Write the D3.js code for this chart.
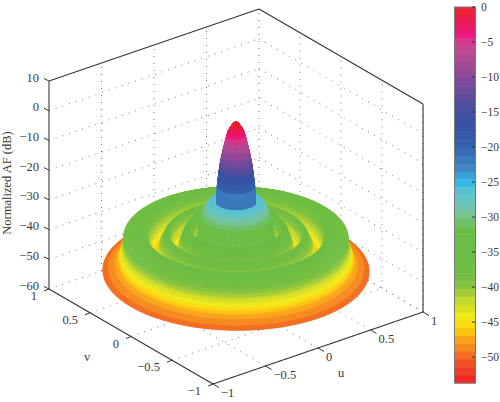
<!DOCTYPE html>
<html><head><meta charset="utf-8">
<script src="https://cdn.jsdelivr.net/npm/d3@7"></script>
<style>html,body{margin:0;padding:0;background:#fff}svg{display:block}text{font-family:"Liberation Serif","Times New Roman",serif;fill:#3a3a3a}</style>
</head><body><svg id="c" width="500" height="402"></svg>
<script>
// radial pattern cut: radius in uv-space and normalized AF in dB
const radii =  [0,.02,.04,.06,.083,.10,.12,.132,.14,.144,.15,.165,.19,.22,.255,.27,.285,.30,.31,.33,.345,.36,.385,.42,.435,.45,.47,.49,.51,.535,.575,.585,.60,.62,.64,.66,.68,.72,.78,.84,.85,.87,.89,.95,1];
const levels = [0,-.4,-1.7,-3.2,-7,-10,-14.5,-18.5,-21.5,-28,-29,-26.5,-26.5,-28,-31,-34,-38,-41,-44,-39.5,-36,-35,-36.5,-40.3,-43,-47,-44,-40,-37,-38,-41.5,-44,-48.5,-45.5,-42.5,-39.5,-37.2,-36.5,-37.5,-38.6,-42,-45,-47.5,-49,-50];
const uTicks = [-1,-.5,0,.5,1];
const vTicks = [-1,-.5,0,.5,1];
const zTicks = [-60,-50,-40,-30,-20,-10,0,10];
const barTicks = [0,-5,-10,-15,-20,-25,-30,-35,-40,-45,-50];
const cmapValues = [0,-2,-4,-5.5,-8,-11,-14,-17,-20,-23,-25,-26,-28,-29.5,-31,-32,-36,-38.5,-40,-42,-44.5,-46,-47.5,-49,-50.5,-52,-53.7];
const cmapColors = ["#ee2a2a","#e8184f","#ec1a80","#c9468f","#a94a96","#7a4a9a","#4e4f9e","#3752a3","#3462ae","#3f88c6","#2fb8e8","#55c1d6","#6cc5c0","#78c498","#6fbf5f","#6cbd45","#6cbd45","#72bf44","#8bc53f","#c4d92e","#f6eb14","#fecf0a","#f9a61a","#f58220","#f15a24","#ef3e26","#ed1c24"];
const uLabel = "u", vLabel = "v", zLabel = "Normalized AF (dB)";
const bandCount = 48, zMin = -53.7;

const svg = d3.select("#c");
const ox = 213, oy = 384;
const uX = d3.scaleLinear([-1,1],[0,210]), uY = d3.scaleLinear([-1,1],[0,-72]);
const vX = d3.scaleLinear([-1,1],[0,-164]), vY = d3.scaleLinear([-1,1],[0,-95]);
const zY = d3.scaleLinear([-60,10],[0,-208]);
const P = (u,v,z) => [ox+uX(u)+vX(v), oy+uY(u)+vY(v)+zY(z)];
const line = d3.line();
const fmt = t => String(t).replace("-","\u2212");

// colormap
const cm = d3.scaleLinear(cmapValues,cmapColors);
const band = z => { const w = -zMin/bandCount; const i = Math.min(bandCount-1,Math.max(0,Math.floor(-z/w))); return cm(-(i+.5)*w); };

// grid
const gridLines = [];
for (const z of zTicks.slice(0,-1)) { gridLines.push([P(-1,1,z),P(1,1,z)]); gridLines.push([P(1,1,z),P(1,-1,z)]); }
for (const u of uTicks) { if(u>-1) gridLines.push([P(u,1,-60),P(u,1,10)]); if(u>-1) gridLines.push([P(u,-1,-60),P(u,1,-60)]); }
for (const v of vTicks) { if(v<1) gridLines.push([P(1,v,-60),P(1,v,10)]); if(v<1) gridLines.push([P(-1,v,-60),P(1,v,-60)]); }
svg.append("g").selectAll("path").data(gridLines).join("path").attr("d",line)
  .attr("fill","none").attr("stroke","#777").attr("stroke-width",1).attr("stroke-dasharray","1 6");

// box
const box = [[P(-1,1,10),P(1,1,10)],[P(1,1,10),P(1,-1,10)],[P(1,-1,10),P(1,-1,-60)],[P(1,-1,-60),P(-1,-1,-60)],[P(-1,-1,-60),P(-1,1,-60)]];
svg.append("g").selectAll("path").data(box).join("path").attr("d",line).attr("fill","none").attr("stroke","#333").attr("stroke-width",1.1);
svg.append("path").attr("d",line([P(-1,1,10),P(-1,1,-60)])).attr("stroke","#777").attr("stroke-width",1.6);

// surface
const prof = d3.scaleLinear(radii,levels);
const rings = [];
for (let i=0;i<radii.length-1;i++){ const n=Math.max(1,Math.ceil((radii[i+1]-radii[i])/.005)); for(let k=0;k<n;k++) rings.push(radii[i]+(radii[i+1]-radii[i])*k/n); }
rings.push(1);
const dA = Math.PI/90;
const cells = [];
for (let i=0;i<rings.length-1;i++) for (let a=0;a<180;a++){
  const r0=rings[i], r1=rings[i+1], a0=a*dA, a1=(a+1)*dA, am=a0+dA/2, rm=(r0+r1)/2;
  const uu=rm*Math.cos(am), vv=rm*Math.sin(am);
  cells.push({key:36*uu+47.5*vv, z:prof(r0),
    pts:[P(r0*Math.cos(a0),r0*Math.sin(a0),prof(r0)),P(r1*Math.cos(a0),r1*Math.sin(a0),prof(r1)),P(r1*Math.cos(a1),r1*Math.sin(a1),prof(r1)),P(r0*Math.cos(a1),r0*Math.sin(a1),prof(r0))]});
}
cells.sort((a,b)=>d3.descending(a.key,b.key));
svg.append("g").selectAll("path").data(cells).join("path")
  .attr("d",d=>line(d.pts)+"Z").attr("fill",d=>band(d.z)).attr("stroke",d=>band(d.z)).attr("stroke-width",.6);

// axis ticks & labels
const tk = svg.append("g").attr("stroke","#333").attr("stroke-width",1);
const tx = svg.append("g").attr("font-size",12.5);
zTicks.forEach(z=>{ const p=P(-1,1,z); tk.append("line").attr("x1",p[0]).attr("y1",p[1]).attr("x2",p[0]-5).attr("y2",p[1]-2.5);
  tx.append("text").attr("x",p[0]-10).attr("y",p[1]+.5).attr("text-anchor","end").text(fmt(z)); });
vTicks.forEach(v=>{ const p=P(-1,v,-60); tk.append("line").attr("x1",p[0]).attr("y1",p[1]).attr("x2",p[0]-5).attr("y2",p[1]+2);
  tx.append("text").attr("x",p[0]-12).attr("y",p[1]+11).attr("text-anchor","end").text(fmt(v)); });
uTicks.forEach(u=>{ const p=P(u,-1,-60); tk.append("line").attr("x1",p[0]).attr("y1",p[1]).attr("x2",p[0]+6).attr("y2",p[1]+3.5);
  tx.append("text").attr("x",p[0]+8).attr("y",p[1]+13).text(fmt(u)); });
tx.append("text").attr("x",341).attr("y",377).attr("text-anchor","middle").text(uLabel);
tx.append("text").attr("x",87).attr("y",361).attr("text-anchor","middle").text(vLabel);
tx.append("text").attr("transform","translate(11,183) rotate(-90)").attr("text-anchor","middle").text(zLabel);

// colorbar
const by = d3.scaleLinear([0,zMin],[7,383]);
const bw = -zMin/bandCount;
svg.append("g").selectAll("rect").data(d3.range(bandCount)).join("rect")
  .attr("x",454.5).attr("width",21).attr("y",i=>by(-i*bw)).attr("height",i=>by(-(i+1)*bw)-by(-i*bw)+.5).attr("fill",i=>cm(-(i+.5)*bw));
svg.append("rect").attr("x",454.5).attr("y",7).attr("width",21).attr("height",376).attr("fill","none").attr("stroke","#777");
barTicks.forEach(t=>{ const y=by(t); svg.append("line").attr("x1",472).attr("x2",475).attr("y1",y).attr("y2",y).attr("stroke","#333");
  svg.append("text").attr("font-size",11.5).attr("x",481).attr("y",y+4).text(fmt(t)); });
</script></body></html>
